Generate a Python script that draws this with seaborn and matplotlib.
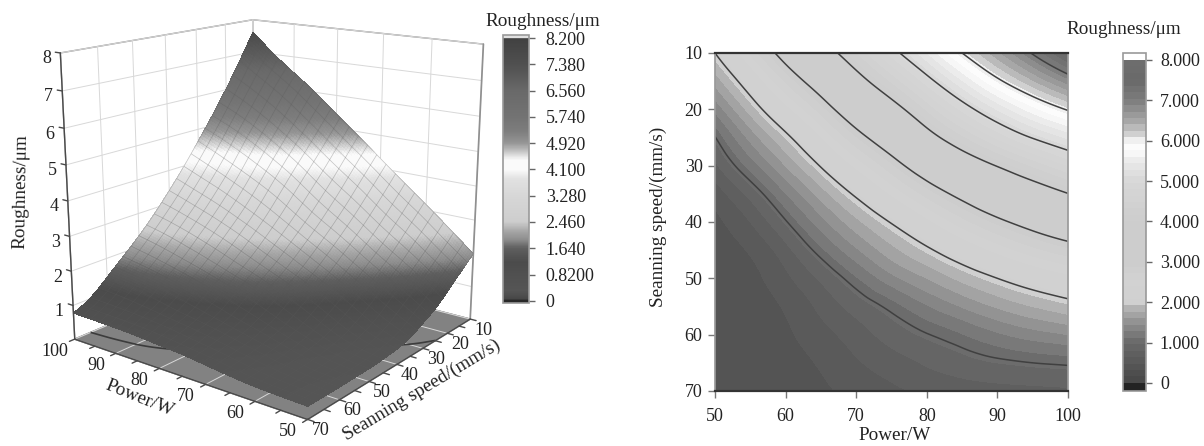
import matplotlib
matplotlib.use("Agg")
import matplotlib.pyplot as plt
import matplotlib.tri as mtri
import numpy as np
import seaborn as sns
from matplotlib.cm import ScalarMappable
from matplotlib.colors import BoundaryNorm, LinearSegmentedColormap, ListedColormap, Normalize
from mpl_toolkits.mplot3d import proj3d

# Roughness, one row per scanning speed
power = [50, 55, 60, 65, 70, 75, 80, 85, 90, 95, 100]
speed = [10, 15, 20, 25, 30, 35, 40, 45, 50, 55, 60, 65, 70]
roughness = [
    [2.00, 2.59, 3.17, 3.73, 4.30, 4.87, 5.43, 6.00, 6.51, 7.03, 7.62],
    [1.66, 2.19, 2.74, 3.25, 3.81, 4.34, 4.88, 5.42, 5.93, 6.37, 6.80],
    [1.32, 1.83, 2.32, 2.80, 3.32, 3.81, 4.34, 4.84, 5.29, 5.69, 6.03],
    [0.99, 1.49, 1.93, 2.39, 2.86, 3.31, 3.82, 4.27, 4.67, 5.02, 5.31],
    [0.76, 1.18, 1.60, 2.02, 2.44, 2.84, 3.28, 3.68, 4.02, 4.34, 4.64],
    [0.55, 0.86, 1.27, 1.67, 2.05, 2.42, 2.78, 3.12, 3.44, 3.72, 3.99],
    [0.44, 0.64, 0.98, 1.37, 1.71, 2.02, 2.34, 2.65, 2.92, 3.16, 3.39],
    [0.39, 0.50, 0.74, 1.08, 1.41, 1.70, 1.95, 2.21, 2.45, 2.66, 2.83],
    [0.36, 0.43, 0.60, 0.83, 1.10, 1.38, 1.60, 1.81, 2.00, 2.18, 2.33],
    [0.35, 0.39, 0.50, 0.68, 0.87, 1.05, 1.26, 1.45, 1.62, 1.76, 1.88],
    [0.34, 0.37, 0.45, 0.58, 0.72, 0.87, 0.99, 1.11, 1.25, 1.36, 1.44],
    [0.34, 0.36, 0.41, 0.50, 0.62, 0.72, 0.82, 0.90, 0.96, 1.00, 1.03],
    [0.34, 0.36, 0.39, 0.45, 0.53, 0.61, 0.66, 0.71, 0.74, 0.76, 0.78],
]

power_ticks = [50, 60, 70, 80, 90, 100]
speed_ticks = [10, 20, 30, 40, 50, 60, 70]
z_ticks = [1, 2, 3, 4, 5, 6, 7, 8]
contour_lines = [1, 2, 3, 4, 5, 6, 7]

bar3d_ticks = [0, 0.82, 1.64, 2.46, 3.28, 4.1, 4.92, 5.74, 6.56, 7.38, 8.2]
bar3d_labels = ["0", "0.8200", "1.640", "2.460", "3.280", "4.100", "4.920", "5.740", "6.560", "7.380", "8.200"]
bar2d_ticks = [0, 1, 2, 3, 4, 5, 6, 7, 8]
bar2d_labels = ["0", "1.000", "2.000", "3.000", "4.000", "5.000", "6.000", "7.000", "8.000"]

# grey level against roughness
grey3d_at = [-0.07, 0.0, 0.05, 0.3, 0.82, 1.2, 1.64, 1.9, 2.2, 2.46, 3.28, 3.8, 4.1, 4.4, 4.7, 4.92, 5.3, 5.74, 6.56, 7.38, 8.2, 8.21, 8.3]
grey3d = [40, 40, 70, 85, 80, 75, 95, 140, 170, 205, 215, 225, 250, 250, 190, 150, 125, 115, 105, 80, 65, 225, 225]
grey2d_at = [0.0, 1.0, 1.5, 1.9, 2.0, 2.5, 3.0, 4.0, 5.0, 5.5, 5.8, 6.0, 6.2, 6.5, 7.0, 7.5, 8.0]
grey2d = [70, 105, 145, 185, 208, 210, 205, 205, 215, 235, 255, 240, 200, 165, 125, 105, 110]


def grey(level):
    return (level / 255, level / 255, level / 255)


def main():
    sns.set_theme(style="white")
    plt.rcParams["font.family"] = ["Liberation Serif", "DejaVu Serif"]
    plt.rcParams["text.color"] = "#222222"
    plt.rcParams["axes.labelcolor"] = "#222222"
    plt.rcParams["xtick.color"] = "#222222"
    plt.rcParams["ytick.color"] = "#222222"
    plt.rcParams["font.size"] = 13
    plt.rcParams["xtick.labelsize"] = 13
    plt.rcParams["ytick.labelsize"] = 13
    label_size = 13.8
    W, H = 1204, 446

    def box(x0, y0, x1, y1):
        return [x0 / W, 1 - y1 / H, (x1 - x0) / W, (y1 - y0) / H]

    fig = plt.figure(figsize=(W / 100, H / 100), dpi=100, facecolor="white")

    # smooth the table for drawing
    px, sx = np.meshgrid(power, speed)
    tri = mtri.Triangulation(px.ravel(), sx.ravel())
    smooth = mtri.CubicTriInterpolator(tri, np.array(roughness).ravel(), kind="min_E")
    X, Y = np.meshgrid(np.linspace(50, 100, 121), np.linspace(10, 70, 121))
    Z = np.ma.filled(smooth(X, Y), np.nan)

    # left: 3D surface
    ax = fig.add_axes(box(-10, -45, 550, 445), projection="3d", computed_zorder=False)
    ax.set_proj_type("persp", focal_length=0.45)
    ax.view_init(elev=16, azim=127.5)
    ax.set_box_aspect((1, 1, 1), zoom=1.0)
    ax.patch.set_alpha(0)

    positions = [(v - grey3d_at[0]) / (grey3d_at[-1] - grey3d_at[0]) for v in grey3d_at]
    positions[-1] = 1.0
    cmap3d = LinearSegmentedColormap.from_list(
        "rough3d", [(p, grey(g)) for p, g in zip(positions, grey3d)], N=512
    )
    norm3d = Normalize(-0.07, 8.3)

    ax.xaxis.set_pane_color(grey(255))
    ax.yaxis.set_pane_color(grey(255))
    ax.zaxis.set_pane_color(grey(130))
    for a in (ax.xaxis, ax.yaxis, ax.zaxis):
        a.pane.set_edgecolor("#909090")
        a._axinfo["grid"]["color"] = "#d8d8d8"
        a._axinfo["grid"]["linewidth"] = 0.7
        a._axinfo["tick"]["inward_factor"] = 0.0
        a._axinfo["tick"]["outward_factor"] = 0.0
        a.line.set_color("#909090")

    ax.contour(X, Y, Z, levels=[1], zdir="z", offset=0, colors="#3c3c3c", linewidths=1.2, zorder=1)
    ax.plot_surface(X, Y, Z, rstride=1, cstride=1, facecolors=cmap3d(norm3d(Z)),
                    shade=False, antialiased=False, linewidth=0, zorder=2)
    ax.plot_wireframe(X, Y, Z, rstride=5, cstride=5, color="#5a5a5a", linewidth=0.5,
                      alpha=0.35, zorder=3)

    ax.set_xlim(50, 100)
    ax.set_ylim(10, 70)
    ax.set_zlim(0, 8)
    ax.set_xticks(power_ticks)
    ax.set_yticks(speed_ticks)
    ax.set_zticks(z_ticks)
    ax.set_xticklabels([])
    ax.set_yticklabels([])
    ax.set_zticklabels([])

    # axis lines, ticks and labels sit on other edges than mplot3d would choose
    edge = dict(color="#4a4a4a", linewidth=1.0, zorder=4)
    ax.plot([100, 100], [70, 70], [0, 8], **edge)
    ax.plot([50, 100], [70, 70], [0, 0], **edge)
    ax.plot([50, 50], [10, 70], [0, 0], **edge)
    for p in power:
        ax.plot([p, p], [70, 71.5], [0, 0], **edge)
    for s in speed:
        ax.plot([50, 48.8], [s, s], [0, 0], **edge)
    for z in z_ticks:
        ax.plot([100, 101.2], [70, 70], [z, z], **edge)

    def tick_label(xs, ys, zs, text, dx, dy):
        x2, y2, _ = proj3d.proj_transform(xs, ys, zs, ax.get_proj())
        ax.annotate(text, xy=(x2, y2), xytext=(dx, dy), textcoords="offset pixels",
                    ha="center", va="center", annotation_clip=False)

    for p in power_ticks:
        tick_label(p, 70, 0, str(p), -20, -12)
    for s in speed_ticks:
        tick_label(50, s, 0, str(s), 13, -11)
    for z in z_ticks:
        tick_label(100, 70, z, str(z), -14, -6)

    fig.text(21 / W, 1 - 192 / H, "Roughness/μm", rotation=89, ha="center", va="center", fontsize=label_size)
    fig.text(140 / W, 1 - 398 / H, "Power/W", rotation=-22, ha="center", va="center", fontsize=label_size)
    fig.text(422 / W, 1 - 390 / H, "Seanning speed/(mm/s)", rotation=31, ha="center", va="center", fontsize=label_size)

    # left colour bar
    cax = fig.add_axes(box(503, 35, 529, 303))
    cb = fig.colorbar(ScalarMappable(norm=norm3d, cmap=cmap3d), cax=cax)
    cb.set_ticks(bar3d_ticks, labels=bar3d_labels)
    cb.ax.tick_params(length=4, width=1, color="#666666", pad=8, right=True)
    cb.outline.set_edgecolor("#999999")
    cb.outline.set_linewidth(1.2)
    fig.text(543 / W, 1 - 21 / H, "Roughness/μm", ha="center", va="center", fontsize=label_size)

    # right: filled contour map
    band_edges = [-0.2] + [round(0.16 * i, 2) for i in range(51)] + [8.17]
    mids = [(a + b) / 2 for a, b in zip(band_edges[1:-2], band_edges[2:-1])]
    band_colours = [grey(35)] + [grey(g) for g in np.interp(mids, grey2d_at, grey2d)] + [grey(255)]
    cmap2d = ListedColormap(sns.color_palette(band_colours, n_colors=len(band_colours)))
    norm2d = BoundaryNorm(band_edges, cmap2d.N)

    ax2 = fig.add_axes(box(715, 53, 1068, 391))
    cf = ax2.contourf(X, Y, Z, levels=band_edges, cmap=cmap2d, norm=norm2d)
    ax2.contour(X, Y, Z, levels=contour_lines, colors="#404040", linewidths=1.1)
    ax2.set_xlim(50, 100)
    ax2.set_ylim(70, 10)
    ax2.set_xticks(power_ticks)
    ax2.set_yticks(speed_ticks)
    ax2.tick_params(length=5, width=1, color="#777777", pad=4, bottom=True, left=True)
    ax2.tick_params(axis="x", pad=7)
    for side in ("left", "right"):
        ax2.spines[side].set_color("#9a9a9a")
    for side in ("top", "bottom"):
        ax2.spines[side].set_color("#333333")
        ax2.spines[side].set_linewidth(1.6)
    fig.text(895 / W, 1 - 436 / H, "Power/W", ha="center", va="center", fontsize=label_size)
    fig.text(658 / W, 1 - 217 / H, "Seanning speed/(mm/s)", rotation=90, ha="center", va="center", fontsize=label_size)

    # right colour bar
    cax2 = fig.add_axes(box(1123, 53, 1146, 391))
    cb2 = fig.colorbar(cf, cax=cax2, spacing="proportional", drawedges=False)
    cb2.set_ticks(bar2d_ticks, labels=bar2d_labels)
    cb2.minorticks_off()
    cb2.ax.tick_params(length=4, width=1, color="#666666", pad=6, right=True)
    cb2.outline.set_edgecolor("#999999")
    cb2.outline.set_linewidth(1.2)
    fig.text(1124 / W, 1 - 30 / H, "Roughness/μm", ha="center", va="center", fontsize=label_size)

    fig.savefig("out.png", dpi=100)


if __name__ == "__main__":
    main()
